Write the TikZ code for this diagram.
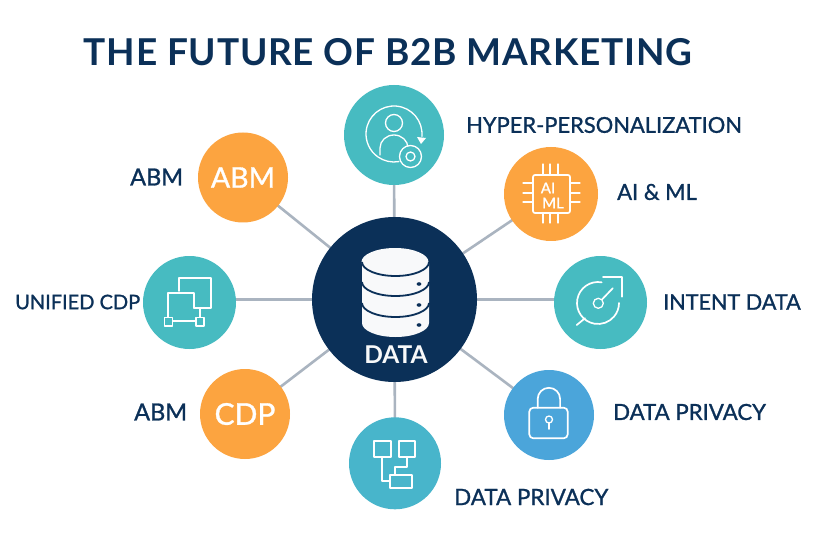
\documentclass[tikz,border=0pt]{standalone}
\usepackage{fontspec}
\setmainfont{Lato}
\newfontfamily\medfont[FakeBold=1.1]{Lato}
\newfontfamily\titlefont[LetterSpace=2]{Lato}
\usetikzlibrary{backgrounds,arrows.meta}
\definecolor{navy}{HTML}{0B3058}
\definecolor{teal1}{HTML}{47BBC1}
\definecolor{teal2}{HTML}{48B5CB}
\definecolor{orange1}{HTML}{FCA440}
\definecolor{blue1}{HTML}{4BA5DA}
\definecolor{linkc}{HTML}{AAB4C0}
\tikzset{
  disc/.style={circle,inner sep=0pt,minimum size=#1},
  link/.style={draw=linkc,line width=2.6pt},
  lab/.style={text=navy,font=\medfont\fontsize{#1}{24}\selectfont,inner sep=0pt,anchor=west},
  icon/.style={draw=white,line width=1.7pt,line cap=round,line join=round},
  iconthin/.style={draw=white,line width=1.3pt,line cap=round,line join=round},
}
\begin{document}
\begin{tikzpicture}[x=1pt,y=-1pt]
\useasboundingbox (0,0) rectangle (829,553);
\node[text=navy,font=\titlefont\bfseries\fontsize{37}{40}\selectfont,inner sep=0pt] (title) at (388,52) {THE FUTURE OF B2B MARKETING};
\node[disc=165pt,fill=navy] (data) at (394.5,299.5) {};
\node[disc=100pt,fill=teal1] (top) at (394,135) {};
\node[disc=94pt,fill=orange1] (ai) at (551,194) {};
\node[disc=93pt,fill=teal1] (intent) at (600.5,302.5) {};
\node[disc=90pt,fill=blue1] (lock) at (549,415) {};
\node[disc=92pt,fill=teal2] (tree) at (395,463.3) {};
\node[disc=90pt,fill=orange1,text=white,font=\medfont\fontsize{30}{34}\selectfont] (cdp) at (245,414) {CDP};
\node[disc=93pt,fill=teal1] (uni) at (189.5,302.5) {};
\node[disc=90pt,fill=orange1,text=white,font=\medfont\fontsize{28.5}{34}\selectfont] (abm) at (243,177.5) {ABM};
\begin{scope}[on background layer]
\fill[white] (0,0) rectangle (829,553);
\foreach \n in {top,ai,lock,tree,cdp,abm} \draw[link] (data.center) -- (\n.center);
\draw[link] (data.center) -- (data.center -| uni.center);
\draw[link] (data.center) -- (data.center -| intent.center);
\end{scope}
% labels
\node[lab=21.9] (l1) at (466,125) {HYPER-PERSONALIZATION};
\node[lab=22] (l2) at (617,192) {AI \& ML};
\node[lab=21.6] (l3) at (663,302) {INTENT DATA};
\node[lab=22.2] (l4) at (613,412) {DATA PRIVACY};
\node[lab=22.4] (l5) at (454,497) {DATA PRIVACY};
\node[lab=23.5] (l6) at (134,412) {ABM};
\node[lab=20] (l7) at (15,302) {UNIFIED CDP};
\node[lab=23.5] (l8) at (130,177) {ABM};
% database
\fill[white!97!navy] (362,262) -- (429,262) -- (429,323) arc[start angle=0,end angle=180,x radius=33.5,y radius=14] -- cycle;
\fill[white!97!navy] (395,262) ellipse[x radius=33.5,y radius=14];
\foreach \yy in {262,282,303}
  \draw[navy,line width=1.8pt] (362,\yy) arc[start angle=180,end angle=0,x radius=33.5,y radius=14];
\foreach \yy in {284,305,325}
  \fill[navy] (419,\yy) ellipse[x radius=2.4,y radius=1.8];
\node[text=white!97!navy,font=\bfseries\fontsize{24.5}{28}\selectfont,inner sep=0pt] (dlab) at (396,355) {DATA};
% person icon
\draw[iconthin] (394,123) circle[radius=8.5];
\draw[iconthin] (380,155) -- (380,148) arc[start angle=180,end angle=360,x radius=14,y radius=13] -- (408,149);
\draw[iconthin] (394,134) ++(5:28) arc[start angle=5,end angle=-280,radius=28];
\draw[iconthin,fill=teal1] (410.5,156.5) circle[radius=11];
\draw[iconthin] (410.5,156.5) circle[radius=4.5];
\fill[white] (417,137) -- (426,138) -- (421,144) -- cycle;
% chip
\draw[icon,rounded corners=2pt] (533,175) rectangle (570,213);
\foreach \xx in {543,550,558} {\draw[iconthin] (\xx,164) -- (\xx,175); \draw[iconthin] (\xx,213) -- (\xx,223);}
\foreach \yy in {183,193,202} {\draw[iconthin] (523,\yy) -- (533,\yy); \draw[iconthin] (570,\yy) -- (580,\yy);}
\node[text=white,font=\medfont\fontsize{15}{15}\selectfont,inner sep=0pt] (c1) at (548,188) {AI};
\node[text=white,font=\medfont\fontsize{15}{15}\selectfont,inner sep=0pt] (c2) at (553,203) {ML};
% intent
\draw[icon] (598,303) ++(-80:21) arc[start angle=-80,end angle=-360,radius=21];
\draw[icon] (603,276.7) -- (621.7,276.7) -- (621.7,296.7);
\draw[iconthin] (598.3,303.3) circle[radius=5];
\draw[icon] (602,299.5) -- (612.7,288.3);
\draw[icon] (576.7,325) -- (585,318.3);
% lock
\draw[icon,rounded corners=4pt] (529.3,407.7) rectangle (567.7,438.3);
\draw[icon] (537.7,407.7) -- (537.7,399) arc[start angle=180,end angle=360,radius=11.2] -- (560.1,407.7);
\draw[iconthin] (549,419.5) circle[radius=3.5];
\draw[icon] (549,423) -- (549,429);
% tree
\draw[icon] (374,440.7) rectangle (390.7,456.7);
\draw[icon] (399.3,440.7) rectangle (415.3,456.7);
\draw[icon] (390,475) rectangle (412,487.7);
\draw[icon] (381.7,456.7) -- (381.7,481) -- (390,481);
\draw[icon] (406.7,456.7) -- (406.7,466.7) -- (395,466.7) -- (395,475);
% unified
\draw[icon] (179,291) -- (179,278) -- (211,278) -- (211,308) -- (194,308);
\draw[icon] (167.7,317) -- (167.7,292.7) -- (194,292.7) -- (194,308);
\draw[iconthin] (164.5,317.5) rectangle (172.5,326);
\draw[iconthin] (196,317.5) rectangle (204,326);
\draw[iconthin] (172.5,321) -- (196,321);
\draw[iconthin] (200,308) -- (200,317.5);
\end{tikzpicture}
\end{document}
